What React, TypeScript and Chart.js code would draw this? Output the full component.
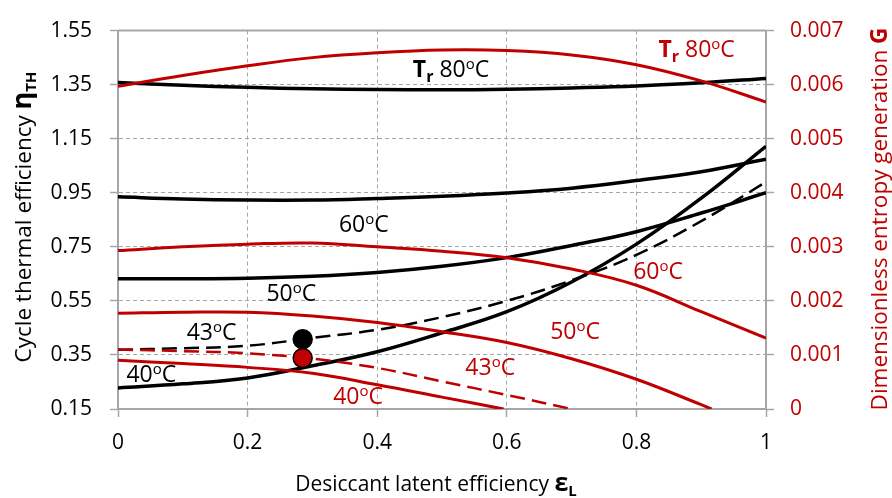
import React, { useEffect, useRef } from 'react';
import { Chart, registerables } from 'chart.js';

Chart.register(...registerables);

// ---------- data ----------
const xTickLabels = ['0', '0.2', '0.4', '0.6', '0.8', '1'];
const leftTickLabels = ['0.15', '0.35', '0.55', '0.75', '0.95', '1.15', '1.35', '1.55'];
const rightTickLabels = ['0', '0.001', '0.002', '0.003', '0.004', '0.005', '0.006', '0.007'];

// desiccant latent efficiency (x)
const epsL = [0, 0.1, 0.2, 0.3, 0.4, 0.5, 0.6, 0.7, 0.8, 0.9, 1.0];

// cycle thermal efficiency (left axis)
const etaTr80 = [1.358, 1.348, 1.34, 1.335, 1.332, 1.331, 1.333, 1.338, 1.345, 1.357, 1.373];
const etaTr60 = [0.935, 0.927, 0.923, 0.923, 0.929, 0.937, 0.949, 0.967, 0.995, 1.028, 1.074];
const etaTr50 = [0.632, 0.632, 0.634, 0.641, 0.655, 0.678, 0.71, 0.755, 0.806, 0.875, 0.95];
const etaTr43 = [0.369, 0.375, 0.384, 0.413, 0.443, 0.49, 0.55, 0.626, 0.72, 0.845, 0.99];
const etaTr40 = [0.228, 0.243, 0.265, 0.31, 0.362, 0.432, 0.51, 0.62, 0.76, 0.93, 1.122];

// dimensionless entropy generation (right axis)
const sgenTr80 = [0.00597, 0.00617, 0.00635, 0.0065, 0.00659, 0.00664, 0.00663, 0.00655, 0.00637, 0.00607, 0.00568];
const sgenTr60 = [0.00293, 0.003, 0.00305, 0.00307, 0.003, 0.00292, 0.0028, 0.00259, 0.00229, 0.0018, 0.00131];
const epsL50 = [0, 0.1, 0.2, 0.3, 0.4, 0.5, 0.6, 0.7, 0.8, 0.9, 0.916];
const sgenTr50 = [0.00177, 0.00179, 0.00179, 0.00172, 0.0016, 0.00143, 0.00123, 0.00093, 0.00055, 0.00008, 0];
const epsL43 = [0, 0.1, 0.2, 0.3, 0.4, 0.5, 0.6, 0.7];
const sgenTr43 = [0.0011, 0.00107, 0.00103, 0.00093, 0.00076, 0.00051, 0.00026, 0];
const epsL40 = [0, 0.1, 0.2, 0.3, 0.4, 0.5, 0.595];
const sgenTr40 = [0.0009, 0.00084, 0.00077, 0.00066, 0.00045, 0.00022, 0];

// design point markers
const designEps = [0.285];
const designEta = [0.408];
const designSgen = [0.000945];

const BLACK = '#000000';
const RED = '#C00000';
const GRID = '#a6a6a6';
const FAMILY = '"Open Sans", sans-serif';
const BASE = 21;
const ANN = 23;
const TITLE = 22.5;

type Seg = { t: string; b?: boolean; sub?: boolean; sup?: boolean; size?: number };

const degC = (n: string): Seg[] => [{ t: n, size: ANN }, { t: 'o', sup: true, size: 15 }, { t: 'C', size: ANN }];
const trLabel: Seg[] = [
  { t: 'T', b: true, size: ANN },
  { t: 'r', b: true, sub: true, size: 16 },
  { t: ' 80', size: ANN },
  { t: 'o', sup: true, size: 15 },
  { t: 'C', size: ANN },
];

// annotation anchors (left edge, baseline) in data coordinates
const annotations: { x: number; y: number; axis: 'y' | 'y1'; color: string; segs: Seg[] }[] = [
  { x: 0.455, y: 1.378, axis: 'y', color: BLACK, segs: trLabel },
  { x: 0.341, y: 0.806, axis: 'y', color: BLACK, segs: degC('60') },
  { x: 0.229, y: 0.549, axis: 'y', color: BLACK, segs: degC('50') },
  { x: 0.106, y: 0.407, axis: 'y', color: BLACK, segs: degC('43') },
  { x: 0.013, y: 0.25, axis: 'y', color: BLACK, segs: degC('40') },
  { x: 0.834, y: 0.006505, axis: 'y1', color: RED, segs: trLabel },
  { x: 0.795, y: 0.00241, axis: 'y1', color: RED, segs: degC('60') },
  { x: 0.667, y: 0.0013, axis: 'y1', color: RED, segs: degC('50') },
  { x: 0.536, y: 0.00063, axis: 'y1', color: RED, segs: degC('43') },
  { x: 0.332, y: 0.0001, axis: 'y1', color: RED, segs: degC('40') },
];

const xTitle: Seg[] = [{ t: 'Desiccant latent efficiency ' }, { t: 'ε', b: true, size: 25 }, { t: 'L', b: true, sub: true, size: 15 }];
const yTitle: Seg[] = [
  { t: 'Cycle thermal efficiency ', size: TITLE },
  { t: 'η', b: true, size: 27 },
  { t: 'TH', b: true, sub: true, size: 15 },
];
const y1Title: Seg[] = [{ t: 'Dimensionless entropy generation ', size: TITLE }, { t: 'G', b: true, size: TITLE }];

function segSize(s: Seg) {
  return s.size ?? (s.sub || s.sup ? 14 : BASE);
}
function segFont(s: Seg) {
  return `${s.b ? 'bold ' : ''}${segSize(s)}px ${FAMILY}`;
}
function richWidth(ctx: CanvasRenderingContext2D, segs: Seg[]) {
  let w = 0;
  for (const s of segs) {
    ctx.font = segFont(s);
    w += ctx.measureText(s.t).width;
  }
  return w;
}
function drawRich(ctx: CanvasRenderingContext2D, segs: Seg[], x: number, y: number, color: string, align: 'left' | 'center') {
  const w = richWidth(ctx, segs);
  let cx = align === 'center' ? x - w / 2 : x;
  ctx.fillStyle = color;
  ctx.textAlign = 'left';
  ctx.textBaseline = 'alphabetic';
  for (const s of segs) {
    ctx.font = segFont(s);
    const dy = s.sub ? 5 : s.sup ? -8 : 0;
    ctx.fillText(s.t, cx, y + dy);
    cx += ctx.measureText(s.t).width;
  }
}

const pts = (xs: number[], ys: number[]) => xs.map((x, i) => ({ x, y: ys[i] }));

const richTextPlugin = {
  id: 'richText',
  afterDraw(chart: any) {
    const ctx: CanvasRenderingContext2D = chart.ctx;
    const { chartArea } = chart;
    const xs = chart.scales.x;
    ctx.save();
    // solid top border of plot area
    ctx.strokeStyle = GRID;
    ctx.lineWidth = 2;
    ctx.setLineDash([]);
    ctx.beginPath();
    ctx.moveTo(chartArea.left, chartArea.top);
    ctx.lineTo(chartArea.right, chartArea.top);
    ctx.stroke();

    for (const a of annotations) {
      const px = xs.getPixelForValue(a.x);
      const py = chart.scales[a.axis].getPixelForValue(a.y);
      drawRich(ctx, a.segs, px, py, a.color, 'left');
    }

    // x title
    drawRich(ctx, xTitle, (chartArea.left + chartArea.right) / 2 - 6, 491, BLACK, 'center');

    // left title (rotated)
    ctx.save();
    ctx.translate(31, 217);
    ctx.rotate(-Math.PI / 2);
    drawRich(ctx, yTitle, 0, 0, BLACK, 'center');
    ctx.restore();

    // right title (rotated)
    ctx.save();
    ctx.translate(887, 219);
    ctx.rotate(-Math.PI / 2);
    drawRich(ctx, y1Title, 0, 0, RED, 'center');
    ctx.restore();

    ctx.restore();
  },
};

export default function App() {
  const ref = useRef<HTMLCanvasElement | null>(null);

  useEffect(() => {
    if (!ref.current) return;
    const line = (xs: number[], ys: number[], color: string, axis: string, dashed: boolean, width: number) => ({
      data: pts(xs, ys),
      borderColor: color,
      backgroundColor: color,
      borderWidth: width,
      borderDash: dashed ? [15, 7] : [],
      pointRadius: 0,
      tension: 0.4,
      yAxisID: axis,
      fill: false,
      order: 2,
    });

    const chart = new Chart(ref.current, {
      type: 'line',
      data: {
        datasets: [
          {
            data: pts(designEps, designSgen),
            showLine: false,
            pointRadius: 9.5,
            pointBackgroundColor: RED,
            pointBorderColor: '#000',
            pointBorderWidth: 1.5,
            yAxisID: 'y1',
            order: 0,
          } as any,
          {
            data: pts(designEps, designEta),
            showLine: false,
            pointRadius: 9.5,
            pointBackgroundColor: '#000',
            pointBorderColor: '#000',
            pointBorderWidth: 1.5,
            yAxisID: 'y',
            order: 0,
          } as any,
          line(epsL, sgenTr80, RED, 'y1', false, 3),
          line(epsL, sgenTr60, RED, 'y1', false, 3),
          line(epsL50, sgenTr50, RED, 'y1', false, 3),
          line(epsL43, sgenTr43, RED, 'y1', true, 2.5),
          line(epsL40, sgenTr40, RED, 'y1', false, 3),
          line(epsL, etaTr80, BLACK, 'y', false, 3.5),
          line(epsL, etaTr60, BLACK, 'y', false, 3.5),
          line(epsL, etaTr50, BLACK, 'y', false, 3.5),
          line(epsL, etaTr43, BLACK, 'y', true, 2.5),
          line(epsL, etaTr40, BLACK, 'y', false, 3.5),
        ],
      },
      options: {
        responsive: false,
        animation: false,
        layout: { padding: { top: 24, left: 0, right: 0, bottom: 0 }, autoPadding: false },
        plugins: { legend: { display: false }, tooltip: { enabled: false } },
        font: { family: FAMILY },
        scales: {
          x: {
            type: 'linear',
            min: 0,
            max: 1,
            ticks: {
              stepSize: 0.2,
              autoSkip: false,
              maxRotation: 0,
              padding: 13,
              color: BLACK,
              font: { family: FAMILY, size: BASE },
              callback: (_v: any, i: number) => xTickLabels[i],
            },
            grid: { color: GRID, lineWidth: 1, tickLength: 8, tickColor: GRID, tickWidth: 1.5 },
            border: { color: GRID, width: 2, dash: [4, 3] },
            afterFit: (s: any) => {
              s.height = 89;
            },
          },
          y: {
            type: 'linear',
            position: 'left',
            min: 0.15,
            max: 1.55,
            ticks: {
              stepSize: 0.2,
              autoSkip: false,
              padding: 18,
              color: BLACK,
              font: { family: FAMILY, size: BASE },
              callback: (_v: any, i: number) => leftTickLabels[i],
            },
            grid: { color: GRID, lineWidth: 1, tickLength: 8, tickColor: GRID, tickWidth: 1.5 },
            border: { color: GRID, width: 2, dash: [4, 3] },
            afterFit: (s: any) => {
              s.width = 118;
            },
          },
          y1: {
            type: 'linear',
            position: 'right',
            min: 0,
            max: 0.007,
            ticks: {
              stepSize: 0.001,
              autoSkip: false,
              padding: 16,
              color: RED,
              font: { family: FAMILY, size: BASE },
              callback: (_v: any, i: number) => rightTickLabels[i],
            },
            grid: { drawOnChartArea: false, color: GRID, tickLength: 8, tickColor: GRID, tickWidth: 1.5 },
            border: { color: GRID, width: 2 },
            afterFit: (s: any) => {
              s.width = 126;
            },
          },
        },
      } as any,
      plugins: [richTextPlugin],
    });
    return () => chart.destroy();
  }, []);

  return (
    <div style={{ position: 'fixed', left: 0, top: 0, width: 892, height: 498, background: '#fff' }}>
      <canvas ref={ref} width={892} height={498} style={{ display: 'block' }} />
    </div>
  );
}
